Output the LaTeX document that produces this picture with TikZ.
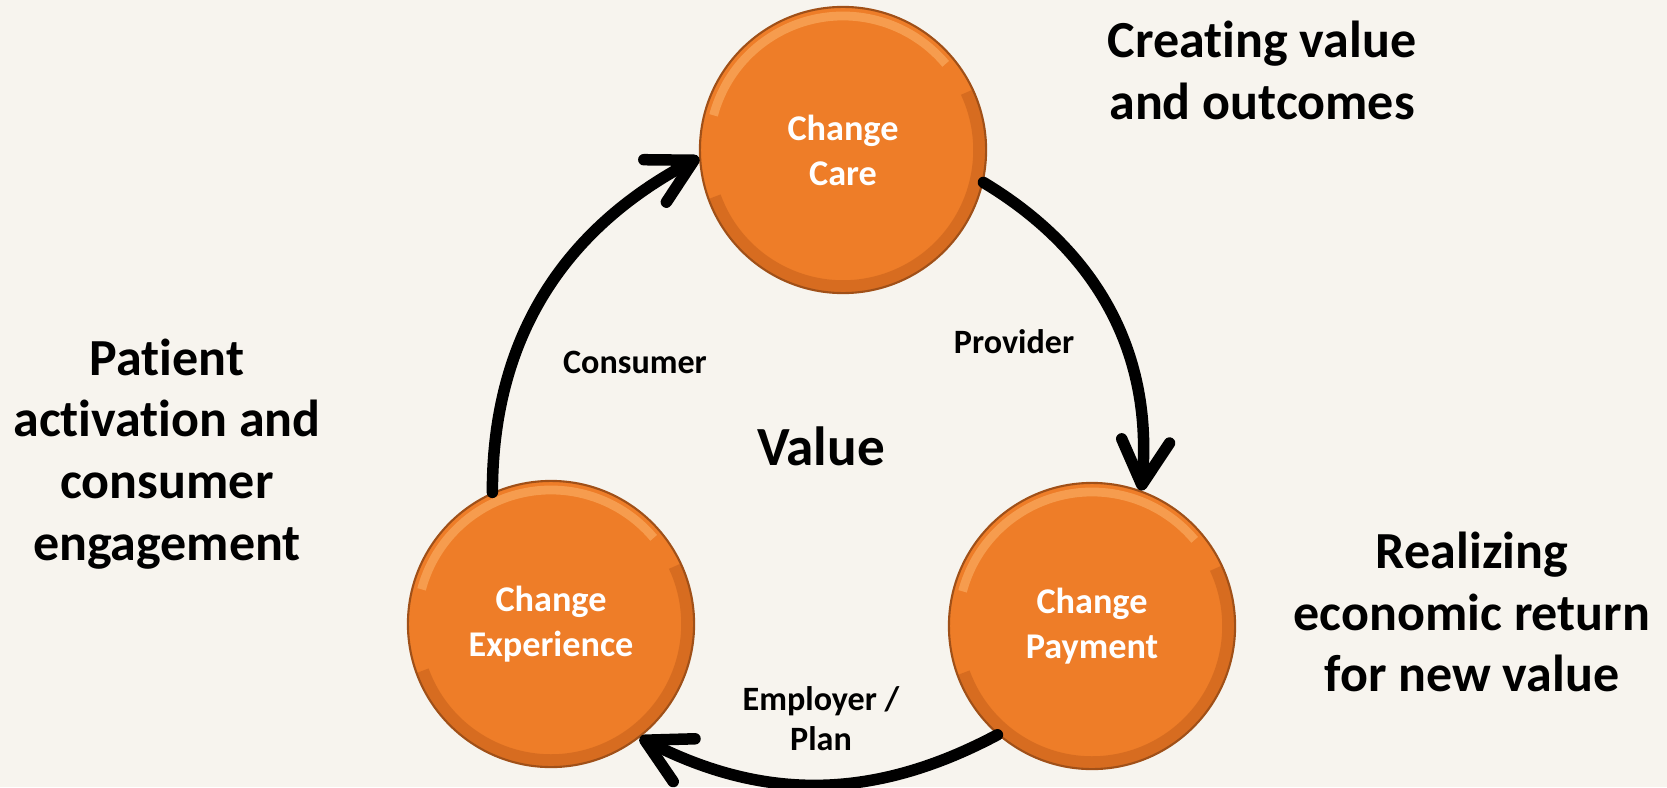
\documentclass[tikz,border=0pt]{standalone}
\usepackage{fontspec}
\setmainfont{Carlito}[Ligatures=NoCommon]
\usepackage{tikz}
\usetikzlibrary{arrows.meta, positioning, calc}

\definecolor{paper}{RGB}{247,244,238}
\definecolor{orbfill}{RGB}{238,125,40}
\definecolor{orbrim}{RGB}{160,80,24}
\definecolor{orblight}{RGB}{250,170,95}
\definecolor{orbdark}{RGB}{200,98,28}

\tikzset{
  orb/.style={circle, minimum size=2.86cm, inner sep=0pt, fill=orbfill,
    draw=orbrim, line width=0.6pt, text=white, align=center,
    font=\fontsize{10.3}{12.8}\selectfont\bfseries,
    path picture={
      \draw[orblight, line width=2.5, opacity=0.7]
        ($(path picture bounding box.center)+(165:134)$) arc[start angle=165, end angle=40, radius=134];
      \draw[orbdark, line width=5, opacity=0.6]
        ($(path picture bounding box.center)+(-160:139)$) arc[start angle=-160, end angle=25, radius=139];
    }},
  flow/.style={line width=1.15mm, line cap=round,
    -{Straight Barb[length=4.4mm, width=4.8mm, line cap=round, line join=round]}},
  lbl/.style={font=\fontsize{9.7}{11.4}\selectfont\bfseries, align=center},
  side/.style={font=\fontsize{14.8}{17.6}\selectfont\bfseries, align=center},
}

\begin{document}
\begin{tikzpicture}[x=0.01cm, y=0.01cm]
\useasboundingbox (0,0) rectangle (1667,787);
\fill[paper] (0,0) rectangle (1667,787);

% the three steps
\node[orb] (care) at (843,637) {Change\\Care};
\node[orb] (pay) at (1092,161) {Change\\Payment};
\node[orb] (exp) at (551,163) {Change\\Experience};

% cycle
\draw[flow] (exp.114) to[out=90, in=208] (care.183);
\draw[flow] (care.-13) to[out=-31, in=85] (pay.70);
\draw[flow] (pay.-131) to[out=208, in=-27] (exp.-52);

% labels on the cycle
\node[lbl] (consumer) at (635,425) {Consumer};
\node[lbl] (provider) at (1014,445) {Provider};
\node[lbl] (employer) at (821,68) {Employer /\\Plan};
\node[font=\fontsize{15.7}{18}\selectfont\bfseries] (value) at (821,341) {Value};

% outcomes round the cycle
\node[side] (creating) at (1262,717) {Creating value\\and outcomes};
\node[side] (patient) at (167,333) {Patient\\activation and\\consumer\\engagement};
\node[side] (realizing) at (1472,175) {Realizing\\economic return\\for new value};
\end{tikzpicture}
\end{document}
